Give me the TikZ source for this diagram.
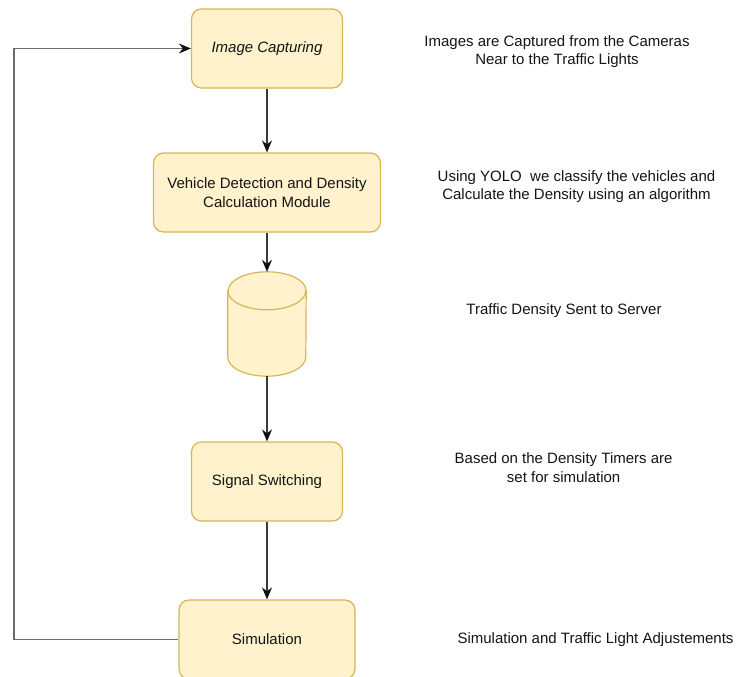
\documentclass[tikz,border=0pt]{standalone}
\usepackage{fontspec}
\setmainfont{Liberation Sans}
\usetikzlibrary{arrows.meta}
\definecolor{boxfill}{HTML}{FFF2CC}
\definecolor{boxline}{HTML}{D6B656}
\definecolor{wire}{HTML}{3A3A3A}
\definecolor{tip}{HTML}{101010}
\definecolor{loopwire}{HTML}{6A6A6A}
\definecolor{ink}{HTML}{141414}
\begin{document}
\begin{tikzpicture}[x=1pt,y=-1pt,
  every node/.style={font=\fontsize{15}{18.5}\selectfont, text=ink},
  stage/.style={draw=boxline, fill=boxfill, line width=1.2pt, rounded corners=10pt,
    align=center, inner sep=0pt},
  note/.style={align=center, inner sep=0pt},
  flow/.style={draw=wire, line width=1.4pt,
    -{Stealth[length=12pt,width=10pt,inset=4pt,color=tip]}},
]
\useasboundingbox (0,0) rectangle (744,677);

% process stages
\node[stage, minimum width=151pt, minimum height=79pt] (cap) at (267,48.5) {\itshape Image Capturing};
\node[stage, minimum width=227pt, minimum height=79pt] (veh) at (267,192.5)
  {Vehicle Detection and Density\\Calculation Module};
\node[minimum width=78pt, minimum height=104pt, inner sep=0pt] (db) at (267,324) {};
\node[stage, minimum width=151pt, minimum height=79pt] (sig) at (267,481.5) {Signal Switching};
\node[stage, minimum width=176pt, minimum height=79pt] (sim) at (267,639.5) {Simulation};

% database cylinder drawn over the db node
\path[draw=boxline, fill=boxfill, line width=1.2pt]
  ([yshift=-19pt]db.north west) -- ([yshift=19pt]db.south west)
  arc[start angle=180, end angle=360, x radius=39pt, y radius=19pt]
  -- ([yshift=-19pt]db.north east)
  arc[start angle=0, end angle=180, x radius=39pt, y radius=19pt] -- cycle;
\draw[boxline, line width=1.2pt] ([yshift=-19pt]db.north west)
  arc[start angle=180, end angle=360, x radius=39pt, y radius=19pt];

% descriptions
\node[note] (n1) at (557,51.7) {Images are Captured from the Cameras\\Near to the Traffic Lights};
\node[note] (n2) at (576.5,186.5) {Using YOLO\ \ we classify the vehicles and\\Calculate the Density using an algorithm};
\node[note] (n3) at (564,310.7) {Traffic Density Sent to Server};
\node[note] (n4) at (563.6,467.5) {Based on the Density Timers are\\set for simulation};
\node[note] (n5) at (595.5,640) {Simulation and Traffic Light Adjustements};

% flow connectors
\draw[flow] (cap) -- (veh);
\draw[flow] (veh) -- (db.north);
\draw[flow] (db.south) -- (sig);
\draw[flow] (sig) -- (sim);

% feedback loop
\coordinate (turn) at (14,0);
\draw[flow, draw=loopwire, line width=1.6pt] (sim.west) -- (sim.west -| turn) |- (cap.west);
\end{tikzpicture}
\end{document}
